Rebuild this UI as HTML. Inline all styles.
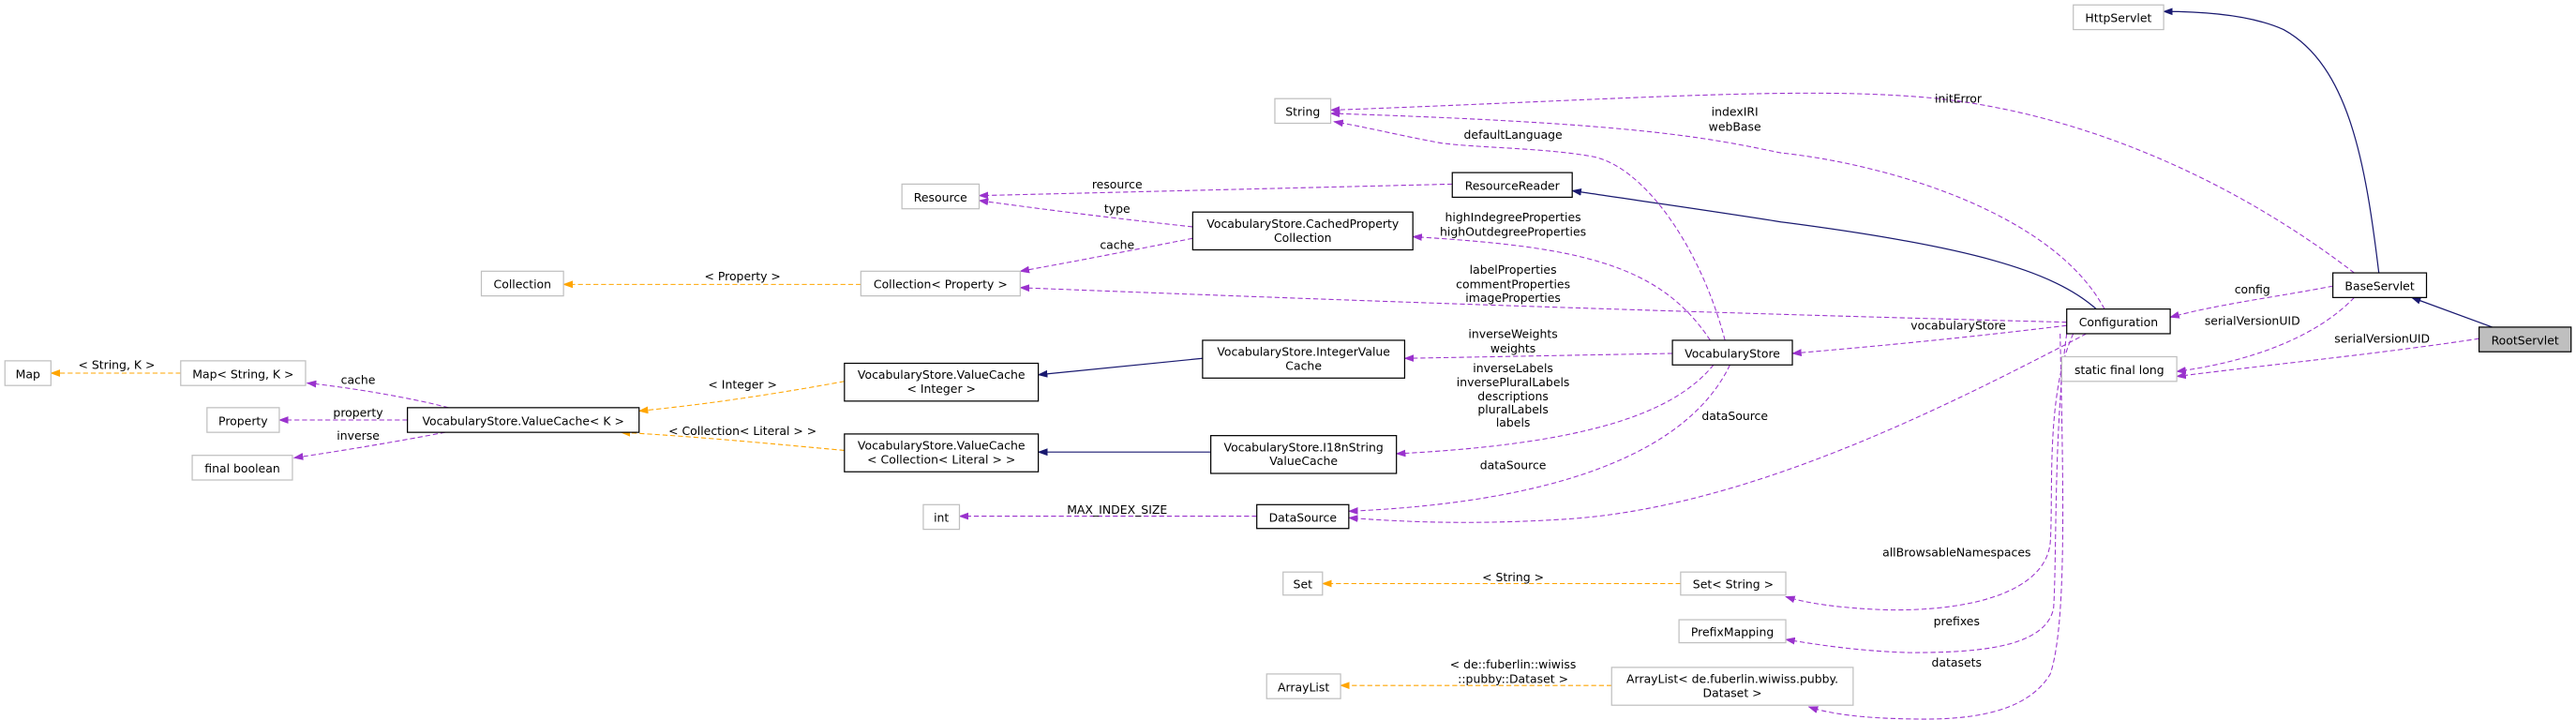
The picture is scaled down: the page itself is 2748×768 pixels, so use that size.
<!DOCTYPE html>
<html><head><meta charset="utf-8"><style>
html,body{margin:0;padding:0;background:#fff;}
svg{display:block;}
text{font-family:"DejaVu Sans","Liberation Sans",sans-serif;font-size:7.1px;fill:#000;text-anchor:middle;}
.g{fill:#fff;stroke:#bfbfbf;stroke-width:0.7;}
.b{fill:#fff;stroke:#000;stroke-width:0.7;}
.p{fill:none;stroke:#9a32cd;stroke-width:0.6;stroke-dasharray:3,1.7;}
.o{fill:none;stroke:#ffa500;stroke-width:0.6;stroke-dasharray:3,1.7;}
.n{fill:none;stroke:#191970;stroke-width:0.7;}
</style></head><body>
<svg width="2748" height="768" viewBox="0 0 1568 438" preserveAspectRatio="none" xmlns="http://www.w3.org/2000/svg">
<defs>
<marker id="mp" markerUnits="userSpaceOnUse" markerWidth="8" markerHeight="6" refX="5.5" refY="3" orient="auto"><path d="M0,1 L5.5,3 L0,5 z" fill="#9a32cd" stroke="#9a32cd" stroke-width="0.4"/></marker>
<marker id="mo" markerUnits="userSpaceOnUse" markerWidth="8" markerHeight="6" refX="5.5" refY="3" orient="auto"><path d="M0,1 L5.5,3 L0,5 z" fill="#ffa500" stroke="#ffa500" stroke-width="0.4"/></marker>
<marker id="mn" markerUnits="userSpaceOnUse" markerWidth="8" markerHeight="6" refX="5.5" refY="3" orient="auto"><path d="M0,1 L5.5,3 L0,5 z" fill="#191970" stroke="#191970" stroke-width="0.4"/></marker>
</defs>

<!-- orange edges -->
<path class="o" marker-end="url(#mo)" d="M524,173 L343,173"/>
<path class="o" marker-end="url(#mo)" d="M110,227 L31,227"/>
<path class="o" marker-end="url(#mo)" d="M514,232 C470,240 430,246 389,250"/>
<path class="o" marker-end="url(#mo)" d="M514,274 C470,270 430,266 378,263"/>
<path class="o" marker-end="url(#mo)" d="M1023,355 L805,355"/>
<path class="o" marker-end="url(#mo)" d="M981,417 L816,417"/>

<!-- navy edges -->
<path class="n" marker-end="url(#mn)" d="M1448,166 C1440,100 1430,40 1390,18 C1370,9 1340,7 1317,7"/>
<path class="n" marker-end="url(#mn)" d="M1517,199 L1468,181"/>
<path class="n" marker-end="url(#mn)" d="M1276,188 C1250,165 1200,150 1084,135 C1040,128 990,121 957,116"/>
<path class="n" marker-end="url(#mn)" d="M732,218 L632,228"/>
<path class="n" marker-end="url(#mn)" d="M737,275 L632,275"/>

<!-- purple edges -->
<path class="p" marker-end="url(#mp)" d="M273,248 C250,242 215,236 187,233"/>
<path class="p" marker-end="url(#mp)" d="M248,255.5 L170,255.5"/>
<path class="p" marker-end="url(#mp)" d="M271,263 C245,268 210,274 179,278.5"/>
<path class="p" marker-end="url(#mp)" d="M1433,166 C1360,110 1270,70 1180,60 C1100,52 1000,60 810,67"/>
<path class="p" marker-end="url(#mp)" d="M1281,188 C1250,130 1150,100 1084,93 C1040,84 1000,75 810,69"/>
<path class="p" marker-end="url(#mp)" d="M1050,207 C1035,150 1000,100 968,95 C940,90 900,90 877,87 C850,82 830,77 812,74"/>
<path class="p" marker-end="url(#mp)" d="M884,112 L596,119"/>
<path class="p" marker-end="url(#mp)" d="M726,138 C680,133 640,128 596,122"/>
<path class="p" marker-end="url(#mp)" d="M726,145 C690,152 660,158 621,165"/>
<path class="p" marker-end="url(#mp)" d="M1041,207 C1010,160 960,150 860,144"/>
<path class="p" marker-end="url(#mp)" d="M1258,196 C1100,192 900,186 621,175"/>
<path class="p" marker-end="url(#mp)" d="M1258,198 C1200,205 1150,210 1091,215"/>
<path class="p" marker-end="url(#mp)" d="M1018,215 L855,218"/>
<path class="p" marker-end="url(#mp)" d="M1043,222 C1020,250 970,270 850,276"/>
<path class="p" marker-end="url(#mp)" d="M1053,222 C1030,270 960,305 821,311"/>
<path class="p" marker-end="url(#mp)" d="M1270,203 C1180,250 1060,310 950,316 C900,319 860,318 821,315"/>
<path class="p" marker-end="url(#mp)" d="M765,314 L584,314"/>
<path class="p" marker-end="url(#mp)" d="M1262,203 C1245,240 1250,300 1248,330 C1245,360 1200,372 1148,371 C1120,370 1100,367 1087,363"/>
<path class="p" marker-end="url(#mp)" d="M1258,203 C1250,260 1252,340 1250,370 C1245,395 1200,397 1162,397 C1130,396 1105,392 1087,389"/>
<path class="p" marker-end="url(#mp)" d="M1254,203 C1256,300 1258,380 1248,410 C1230,440 1180,438 1150,437 C1125,436 1110,433 1101,430"/>
<path class="p" marker-end="url(#mp)" d="M1433,181 C1410,205 1370,220 1325,226"/>
<path class="p" marker-end="url(#mp)" d="M1509,206 C1450,215 1380,222 1325,229"/>
<path class="p" marker-end="url(#mp)" d="M1420,174 C1390,180 1350,185 1321,193"/>

<!-- nodes -->
<rect class="g" x="1262" y="3" width="55" height="15"/><text x="1289.5" y="13.5">HttpServlet</text>
<rect class="g" x="776" y="60" width="34" height="15"/><text x="793" y="70.5">String</text>
<rect class="b" x="884" y="105" width="73" height="15"/><text x="920.5" y="115.5">ResourceReader</text>
<rect class="g" x="549" y="112" width="47" height="15"/><text x="572.5" y="122.5">Resource</text>
<rect class="b" x="726" y="129" width="134" height="23"/><text x="793" y="138.5">VocabularyStore.CachedProperty</text><text x="793" y="147">Collection</text>
<rect class="g" x="293" y="165" width="50" height="15"/><text x="318" y="175.5">Collection</text>
<rect class="g" x="524" y="165" width="97" height="15"/><text x="572.5" y="175.5">Collection&lt; Property &gt;</text>
<rect class="g" x="3" y="219.5" width="28" height="15"/><text x="17" y="230">Map</text>
<rect class="g" x="110" y="219.5" width="76" height="15"/><text x="148" y="230">Map&lt; String, K &gt;</text>
<rect class="g" x="126" y="248" width="44" height="15"/><text x="148" y="258.5">Property</text>
<rect class="b" x="248" y="248" width="141" height="15"/><text x="318.5" y="258.5">VocabularyStore.ValueCache&lt; K &gt;</text>
<rect class="g" x="117" y="277" width="61" height="15"/><text x="147.5" y="287.5">final boolean</text>
<rect class="b" x="514" y="221" width="118" height="23"/><text x="573" y="230.5">VocabularyStore.ValueCache</text><text x="573" y="239">&lt; Integer &gt;</text>
<rect class="b" x="514" y="264" width="118" height="23"/><text x="573" y="273.5">VocabularyStore.ValueCache</text><text x="573" y="282">&lt; Collection&lt; Literal &gt; &gt;</text>
<rect class="b" x="732" y="207" width="123" height="23"/><text x="793.5" y="216.5">VocabularyStore.IntegerValue</text><text x="793.5" y="225">Cache</text>
<rect class="b" x="737" y="265" width="113" height="23"/><text x="793.5" y="274.5">VocabularyStore.I18nString</text><text x="793.5" y="283">ValueCache</text>
<rect class="b" x="1018" y="207" width="73" height="15"/><text x="1054.5" y="217.5">VocabularyStore</text>
<rect class="b" x="765" y="307" width="56" height="14.5"/><text x="793" y="317.3">DataSource</text>
<rect class="g" x="562" y="307" width="22" height="15"/><text x="573" y="317.5">int</text>
<rect class="b" x="1258" y="188" width="63" height="15"/><text x="1289.5" y="198.5">Configuration</text>
<rect class="b" x="1420" y="166" width="57" height="15"/><text x="1448.5" y="176.5">BaseServlet</text>
<rect x="1509" y="199" width="56" height="15" fill="#bfbfbf" stroke="#000" stroke-width="0.7"/><text x="1537" y="209.5">RootServlet</text>
<rect class="g" x="1255" y="217" width="70" height="15"/><text x="1290" y="227.5">static final long</text>
<rect class="g" x="781" y="348" width="24" height="14"/><text x="793" y="358">Set</text>
<rect class="g" x="1023" y="348" width="64" height="14"/><text x="1055" y="358">Set&lt; String &gt;</text>
<rect class="g" x="1022" y="377" width="65" height="14"/><text x="1054.5" y="387">PrefixMapping</text>
<rect class="g" x="771" y="410" width="45" height="15"/><text x="793.5" y="420.5">ArrayList</text>
<rect class="g" x="981" y="406" width="147" height="23"/><text x="1054.5" y="415.5">ArrayList&lt; de.fuberlin.wiwiss.pubby.</text><text x="1054.5" y="424">Dataset &gt;</text>

<!-- edge labels -->
<text x="452" y="170.5">&lt; Property &gt;</text>
<text x="71" y="224.5">&lt; String, K &gt;</text>
<text x="218" y="233.5">cache</text>
<text x="218" y="253.5">property</text>
<text x="218" y="267.5">inverse</text>
<text x="452" y="236.5">&lt; Integer &gt;</text>
<text x="452" y="264.5">&lt; Collection&lt; Literal &gt; &gt;</text>
<text x="680" y="114.5">resource</text>
<text x="680" y="129.5">type</text>
<text x="680" y="151.5">cache</text>
<text x="680" y="312.5">MAX_INDEX_SIZE</text>
<text x="921" y="84.5">defaultLanguage</text>
<text x="921" y="134.5">highIndegreeProperties</text>
<text x="921" y="143.5">highOutdegreeProperties</text>
<text x="921" y="166.5">labelProperties</text>
<text x="921" y="175.5">commentProperties</text>
<text x="921" y="183.5">imageProperties</text>
<text x="921" y="205.5">inverseWeights</text>
<text x="921" y="214.5">weights</text>
<text x="921" y="226.5">inverseLabels</text>
<text x="921" y="235">inversePluralLabels</text>
<text x="921" y="243.5">descriptions</text>
<text x="921" y="251.5">pluralLabels</text>
<text x="921" y="259.5">labels</text>
<text x="921" y="285.5">dataSource</text>
<text x="921" y="353.5">&lt; String &gt;</text>
<text x="921" y="406.5">&lt; de::fuberlin::wiwiss</text>
<text x="921" y="415.5">::pubby::Dataset &gt;</text>
<text x="1056" y="70.5">indexIRI</text>
<text x="1056" y="79.5">webBase</text>
<text x="1056" y="255.5">dataSource</text>
<text x="1192" y="62.5">initError</text>
<text x="1192" y="200.5">vocabularyStore</text>
<text x="1191" y="338.5">allBrowsableNamespaces</text>
<text x="1191" y="380.5">prefixes</text>
<text x="1191" y="405.5">datasets</text>
<text x="1371" y="178.5">config</text>
<text x="1371" y="197.5">serialVersionUID</text>
<text x="1450" y="208.5">serialVersionUID</text>
</svg>
</body></html>
